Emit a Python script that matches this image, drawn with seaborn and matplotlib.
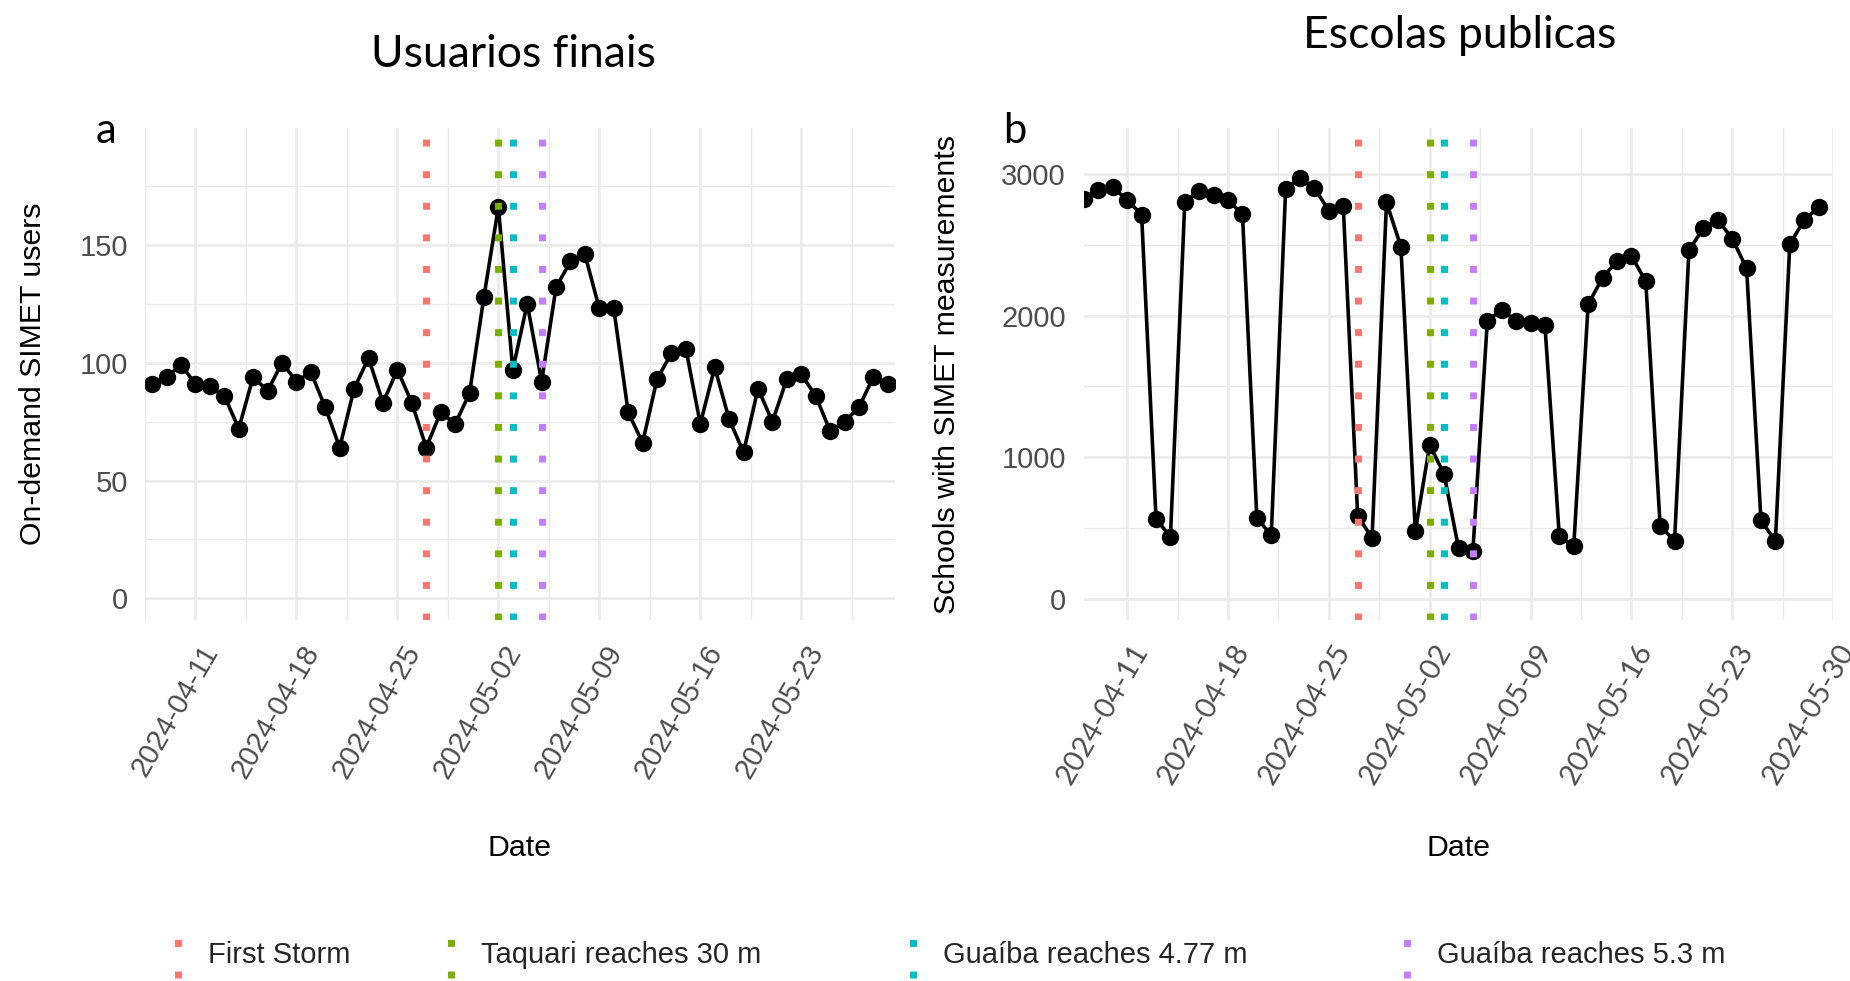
import numpy as np
import pandas as pd
import matplotlib
matplotlib.use("Agg")
import matplotlib.pyplot as plt
import matplotlib.dates as mdates
import seaborn as sns
from matplotlib.lines import Line2D
from matplotlib.legend_handler import HandlerBase
from matplotlib.transforms import ScaledTranslation
from matplotlib.ticker import FixedLocator

# ---------------- data ----------------
start_date = "2024-04-08"
end_date = "2024-05-29"
users = [91, 94, 99, 91, 90, 86, 72, 94, 88, 100, 92, 96, 81, 64, 89, 102, 83, 97, 83, 64, 79, 74, 87,
         128, 166, 97, 125, 92, 132, 143, 146, 123, 123, 79, 66, 93, 104, 106, 74, 98, 76, 62, 89, 75,
         93, 95, 86, 71, 75, 81, 94, 91]
schools = [2823, 2889, 2905, 2816, 2712, 567, 437, 2804, 2877, 2851, 2816, 2716, 574, 449, 2893, 2971,
           2901, 2740, 2771, 586, 432, 2799, 2487,
           479, 1087, 881, 361, 342, 1961, 2043, 1961, 1949, 1932, 442, 371, 2079, 2268, 2386, 2421,
           2244, 513, 413, 2461, 2617, 2676, 2544, 2334, 555, 409, 2504, 2674, 2763]
event_dates = ["2024-04-27", "2024-05-02", "2024-05-03", "2024-05-05"]
event_labels = ["First Storm", "Taquari reaches 30 m", "Guaíba reaches 4.77 m", "Guaíba reaches 5.3 m"]
event_colors = ["#F8766D", "#7CAE00", "#00BFC4", "#C77CFF"]
panel_titles = ["Usuarios finais", "Escolas publicas"]
panel_letters = ["a", "b"]
y_labels = ["On-demand SIMET users", "Schools with SIMET measurements"]
x_label = "Date"
left_yticks = [0, 50, 100, 150]
left_yminor = [25, 75, 125, 175]
right_yticks = [0, 1000, 2000, 3000]
right_yminor = [500, 1500, 2500]

dates = pd.date_range(start_date, end_date, freq="D")
df = pd.DataFrame({"Date": dates, "users": users, "schools": schools})

# ---------------- style ----------------
sns.set_theme(style="white")
plt.rcParams["font.family"] = ["Liberation Sans", "DejaVu Sans"]

W, H = 1850, 981
fig = plt.figure(figsize=(W / 100, H / 100), dpi=100)


def px_axes(x0, x1, y0, y1):
    return fig.add_axes([x0 / W, 1 - y1 / H, (x1 - x0) / W, (y1 - y0) / H])


ax1 = px_axes(145, 895, 128, 620)
ax2 = px_axes(1084, 1833, 128, 620)

GRID = "#EBEBEB"
TICKC = "#4D4D4D"
DOT_LW = 5.0
DOT_STYLE = (0, (1, 3.55))

major_x = mdates.date2num(pd.date_range("2024-04-11", periods=8, freq="7D"))
minor_x = mdates.date2num(pd.date_range("2024-04-07 12:00", periods=9, freq="7D"))

setups = [
    (ax1, "users", (-9.2, 199.6), left_yticks, left_yminor,
     ("2024-04-07 12:00", "2024-05-29 12:00"), -0.1313, 12.2, "Liberation Sans"),
    (ax2, "schools", (-148, 3324), right_yticks, right_yminor,
     ("2024-04-08", "2024-05-30"), -0.1636, 13.0, "Lato"),
]

for i, (ax, col, ylim, yt, ym, xl, ylab_x, ypad, xfont) in enumerate(setups):
    sns.lineplot(data=df, x="Date", y=col, ax=ax, color="black", lw=2.6,
                 marker="o", markersize=12.5, markeredgewidth=0, zorder=3)
    for d, c in zip(event_dates, event_colors):
        ax.axvline(pd.Timestamp(d), color=c, lw=DOT_LW, linestyle=DOT_STYLE,
                   dash_capstyle="butt", zorder=4)
    ax.set_xlim(pd.Timestamp(xl[0]), pd.Timestamp(xl[1]))
    ax.set_ylim(*ylim)
    ax.xaxis.set_major_locator(FixedLocator(major_x))
    ax.xaxis.set_minor_locator(FixedLocator(minor_x))
    ax.xaxis.set_major_formatter(mdates.DateFormatter("%Y-%m-%d"))
    ax.yaxis.set_major_locator(FixedLocator(yt))
    ax.yaxis.set_minor_locator(FixedLocator(ym))
    ax.grid(which="major", color=GRID, lw=1.9)
    ax.grid(which="minor", color=GRID, lw=1.0)
    ax.set_axisbelow(True)
    for s in ax.spines.values():
        s.set_visible(False)
    ax.tick_params(axis="both", which="both", length=0, labelsize=21, labelcolor=TICKC)
    ax.tick_params(axis="y", pad=ypad)
    ax.tick_params(axis="x", pad=14.4)
    offset = ScaledTranslation(0.04, 0, fig.dpi_scale_trans)
    for lbl in ax.get_xticklabels():
        lbl.set_rotation(60)
        lbl.set_ha("right")
        lbl.set_va("top")
        lbl.set_rotation_mode("anchor")
        lbl.set_fontfamily(xfont)
        lbl.set_transform(lbl.get_transform() + offset)
    ax.set_xlabel(x_label, fontsize=21.8, color="black")
    ax.xaxis.set_label_coords(0.5, -0.435)
    ax.set_ylabel(y_labels[i], fontsize=21.8, color="black")
    ax.yaxis.set_label_coords(ylab_x, 0.5)

# titles and panel letters
fig.text(513 / W, 1 - 67 / H, panel_titles[0], ha="center", va="baseline",
         fontsize=32, family="Lato", color="black")
fig.text(1460 / W, 1 - 48 / H, panel_titles[1], ha="center", va="baseline",
         fontsize=32, family="Lato", color="black")
fig.text(106 / W, 1 - 143 / H, panel_letters[0], ha="center", va="baseline",
         fontsize=30, family="Lato", color="black")
fig.text(1015 / W, 1 - 143 / H, panel_letters[1], ha="center", va="baseline",
         fontsize=30, family="Lato", color="black")


# ---------------- legend (vertical dotted keys) ----------------
class VLineHandler(HandlerBase):
    def create_artists(self, legend, orig_handle, xdescent, ydescent, width, height,
                       fontsize, trans):
        cx = width / 2 - xdescent
        cy = height / 2 - ydescent
        line = Line2D([cx, cx], [cy - 18, cy + 10.8], color=orig_handle.get_color(),
                      lw=DOT_LW, linestyle=DOT_STYLE, dash_capstyle="butt")
        line.set_transform(trans)
        return [line]


key_x = [163, 436, 898, 1392]
for kx, lab, c in zip(key_x, event_labels, event_colors):
    h = Line2D([], [], color=c, lw=DOT_LW)
    fig.legend([h], [lab], loc="center left",
               bbox_to_anchor=((kx - 14.6) / W, 1 - 955 / H),
               frameon=False, borderpad=0, handlelength=1.0, handletextpad=0.56,
               fontsize=21, handler_map={Line2D: VLineHandler()})

fig.savefig("out.png", dpi=100, facecolor="white")
